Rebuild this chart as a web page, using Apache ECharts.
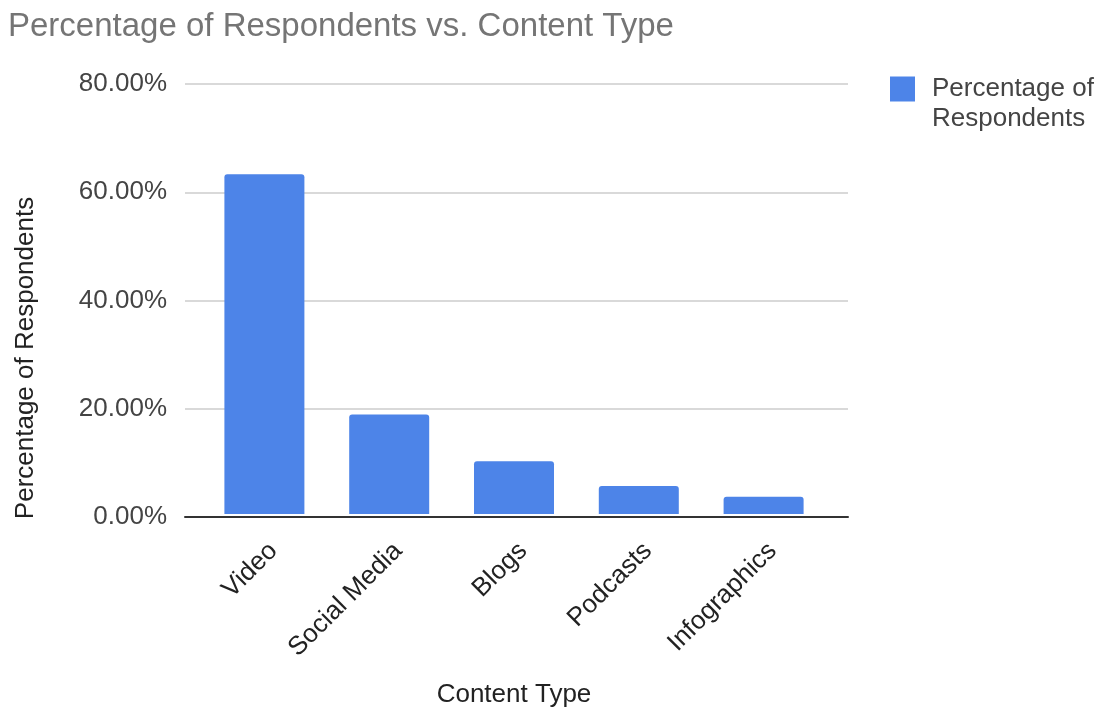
<!DOCTYPE html>
<html>
<head>
<meta charset="utf-8">
<script src="https://cdn.jsdelivr.net/npm/echarts@6/dist/echarts.min.js"></script>
<style>
  html, body { margin: 0; padding: 0; background: #fff; }
  #main { width: 1099px; height: 713px; }
</style>
</head>
<body>
<div id="main"></div>
<script>
// content types on the x axis
var categories = ['Video', 'Social Media', 'Blogs', 'Podcasts', 'Infographics'];
// share of respondents (fraction)
var respondentShare = [0.632, 0.185, 0.098, 0.052, 0.032];
var seriesName = 'Percentage of Respondents';

var chart = echarts.init(document.getElementById('main'));
var font = "'Liberation Sans', Arial, sans-serif";

function pct(v) {
  return (v * 100).toFixed(2) + '%';
}

var option = {
  backgroundColor: '#fff',
  textStyle: { fontFamily: font },
  title: {
    text: 'Percentage of Respondents vs. Content Type',
    left: 3,
    top: 5,
    textStyle: { fontFamily: font, fontSize: 33, fontWeight: 'normal', color: '#757575' }
  },
  legend: {
    data: [seriesName],
    left: 885,
    top: 39,
    icon: 'rect',
    itemWidth: 25,
    itemHeight: 25,
    // empty first line keeps the first text line level with the swatch
    formatter: function () { return '\nPercentage of\nRespondents'; },
    textStyle: { fontFamily: font, fontSize: 26, lineHeight: 30, color: '#444', padding: [0, 0, 0, 12] }
  },
  // grid 0: gridlines + baseline, grid 1: bars, grid 2: category labels
  grid: [
    { left: 185, right: 251, top: 84, bottom: 196 },
    { left: 202, right: 273, top: 84, bottom: 196 },
    { left: 211, right: 264, top: 84, bottom: 196 }
  ],
  xAxis: [
    {
      type: 'category',
      gridIndex: 0,
      data: categories,
      axisLine: { lineStyle: { color: '#333', width: 2 } },
      axisTick: { show: false },
      axisLabel: { show: false }
    },
    {
      type: 'category',
      gridIndex: 1,
      data: categories,
      axisLine: { show: false },
      axisTick: { show: false },
      axisLabel: { show: false },
      name: 'Content Type',
      nameLocation: 'middle',
      nameGap: 168,
      nameTextStyle: { fontSize: 26, color: '#222', fontFamily: font }
    },
    {
      type: 'category',
      gridIndex: 2,
      data: categories,
      axisLine: { show: false },
      axisTick: { show: false },
      axisLabel: { rotate: 45, margin: 30, fontSize: 26, color: '#222', fontFamily: font }
    }
  ],
  yAxis: [
    {
      type: 'value',
      gridIndex: 0,
      min: 0,
      max: 0.8,
      interval: 0.2,
      axisLine: { show: false },
      axisTick: { show: false },
      splitLine: { lineStyle: { color: '#d9d9d9', width: 2 } },
      axisLabel: { formatter: pct, margin: 18, fontSize: 26, color: '#444', fontFamily: font },
      name: 'Percentage of Respondents',
      nameLocation: 'middle',
      nameGap: 146,
      nameTextStyle: { fontSize: 26, color: '#222', fontFamily: font, padding: [0, 115, 0, 0] }
    },
    {
      type: 'value',
      gridIndex: 1,
      min: 0,
      max: 0.8,
      interval: 0.2,
      show: false
    },
    {
      type: 'value',
      gridIndex: 2,
      min: 0,
      max: 0.8,
      interval: 0.2,
      show: false
    }
  ],
  series: [
    {
      name: seriesName,
      type: 'bar',
      xAxisIndex: 1,
      yAxisIndex: 1,
      data: respondentShare,
      barWidth: 80,
      itemStyle: { color: '#4d84e8', borderRadius: [3, 3, 0, 0] }
    }
  ]
};

chart.setOption(option);
</script>
</body>
</html>
